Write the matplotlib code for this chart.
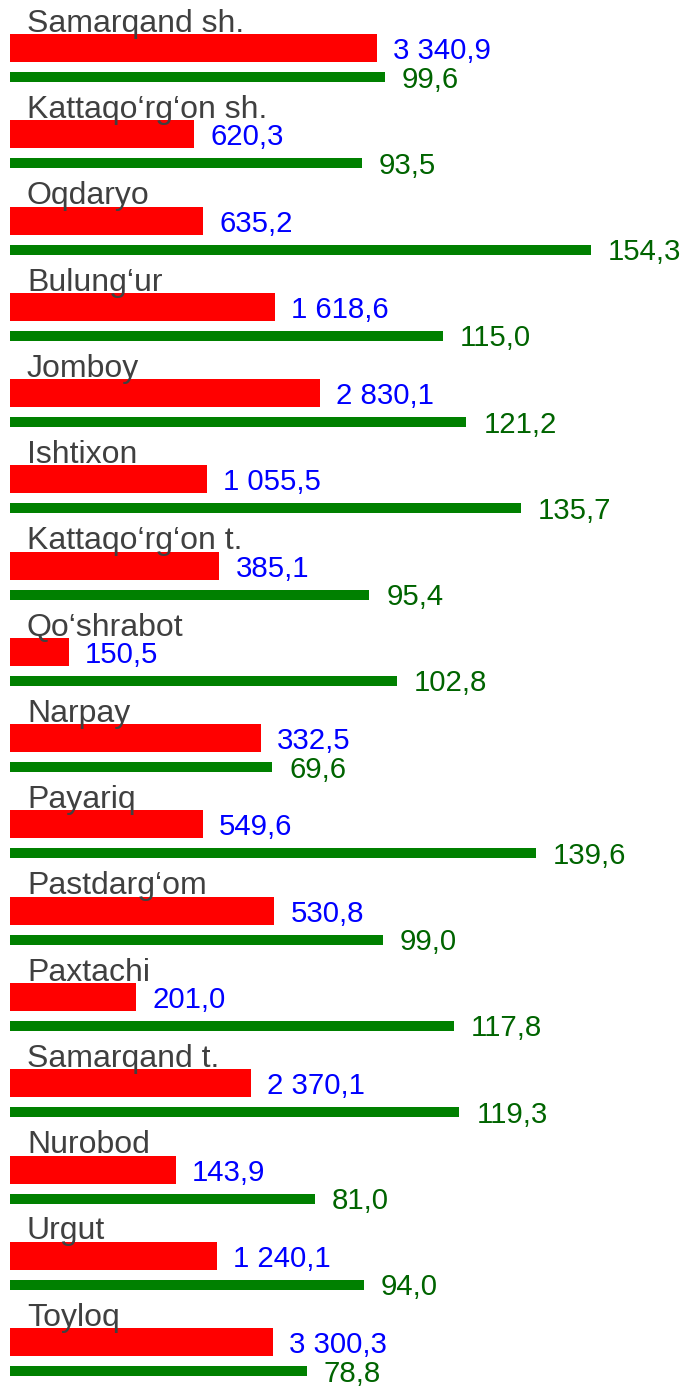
import matplotlib
matplotlib.use("Agg")
import matplotlib.pyplot as plt
import numpy as np

districts = ["Samarqand sh.", "Kattaqo‘rg‘on sh.", "Oqdaryo", "Bulung‘ur", "Jomboy",
             "Ishtixon", "Kattaqo‘rg‘on t.", "Qo‘shrabot", "Narpay", "Payariq",
             "Pastdarg‘om", "Paxtachi", "Samarqand t.", "Nurobod", "Urgut", "Toyloq"]
red_labels = ["3 340,9", "620,3", "635,2", "1 618,6", "2 830,1", "1 055,5", "385,1",
              "150,5", "332,5", "549,6", "530,8", "201,0", "2 370,1", "143,9",
              "1 240,1", "3 300,3"]
# red bar lengths as drawn (same axis units as the green series)
red_lengths = [97.4, 48.9, 51.3, 70.4, 82.3, 52.2, 55.6, 15.6, 66.6, 51.3,
               70.2, 33.5, 63.9, 44.1, 54.9, 69.9]
green_values = [99.6, 93.5, 154.3, 115.0, 121.2, 135.7, 95.4, 102.8, 69.6, 139.6,
                99.0, 117.8, 119.3, 81.0, 94.0, 78.8]

plt.rcParams['font.family'] = ['Liberation Sans', 'DejaVu Sans']

W, H = 688, 1398
fig = plt.figure(figsize=(W / 100, H / 100), dpi=100)
ax = fig.add_axes([0, 0, 1, 1])
ax.set_axis_off()

pxu = 3.766          # pixels per x unit
step = 86.27         # pixels per group
ax.set_xlim(-10 / pxu, (W - 10) / pxu)
ax.set_ylim((H - 48) / step, -48 / step)

idx = np.arange(len(districts))
red_h = 28 / step
green_off = 29 / step
green_h = 10 / step

ax.barh(idx, red_lengths, height=red_h, color='#ff0000', left=0)
ax.barh(idx + green_off, green_values, height=green_h, color='#008000', left=0)

fs_lab = 23
fs_val = 21.2
gap = 16 / pxu
for i in idx:
    ax.text(17 / pxu, i - 16.3 / step, districts[i], fontsize=fs_lab, color='#404040',
            va='baseline', ha='left')
    ax.text(red_lengths[i] + gap, i + 11 / step, red_labels[i], fontsize=fs_val,
            color='#0000ff', va='baseline', ha='left')
    ax.text(green_values[i] + gap + 1 / pxu, i + green_off + 10.5 / step,
            f"{green_values[i]:.1f}".replace('.', ','), fontsize=fs_val,
            color='#006400', va='baseline', ha='left')

fig.savefig("out.png", dpi=100)
